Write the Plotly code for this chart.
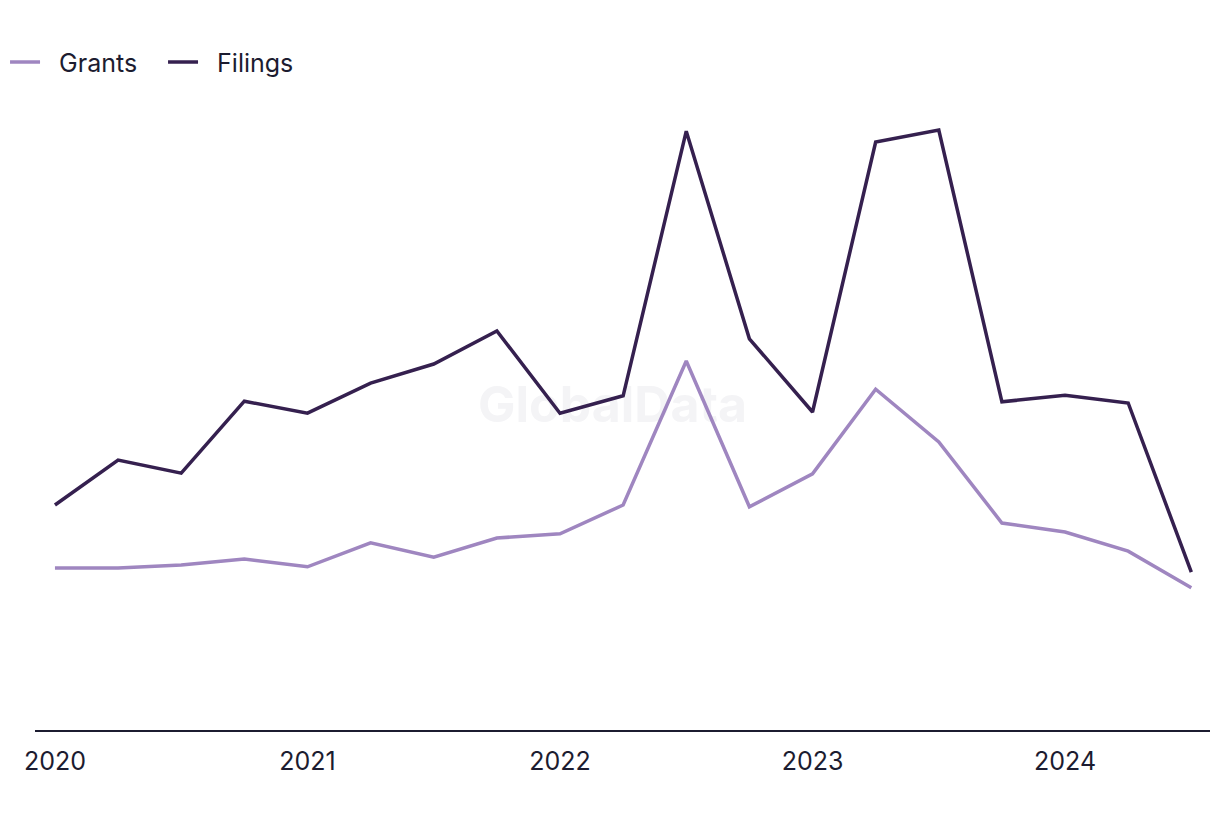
import plotly.graph_objects as go

quarters = [2020 + i * 0.25 for i in range(19)]
quarter_labels = ["Q1 2020", "Q2 2020", "Q3 2020", "Q4 2020",
                  "Q1 2021", "Q2 2021", "Q3 2021", "Q4 2021",
                  "Q1 2022", "Q2 2022", "Q3 2022", "Q4 2022",
                  "Q1 2023", "Q2 2023", "Q3 2023", "Q4 2023",
                  "Q1 2024", "Q2 2024", "Q3 2024"]
grants = [27.0, 27.0, 27.5, 28.5, 27.2, 31.2, 28.8, 32.0, 32.7, 37.5,
          61.5, 37.2, 42.7, 56.8, 48.0, 34.5, 33.0, 29.8, 23.7]
filings = [37.5, 45.0, 42.8, 54.8, 52.8, 57.8, 61.0, 66.5, 52.8, 55.7,
           99.8, 65.2, 53.0, 98.0, 100.0, 54.7, 55.8, 54.5, 26.3]
tick_vals = [2020, 2021, 2022, 2023, 2024]
tick_text = ["2020", "2021", "2022", "2023", "2024"]

x_range = [2019.921, 2024.574]
y_range = [0, 105]
FONT = "Inter, Liberation Sans, sans-serif"
PAD = "\u00a0\u00a0"  # extra gap between legend line and label

fig = go.Figure()
# watermark drawn first so that it sits behind the lines
fig.add_trace(go.Scatter(
    x=[x_range[0] + 0.4915 * (x_range[1] - x_range[0])],
    y=[y_range[0] + 0.508 * (y_range[1] - y_range[0])],
    mode="text", text=["<b>GlobalData</b>"], showlegend=False, hoverinfo="skip",
    textfont=dict(family=FONT, size=50, color="#f4f4f6")))
fig.add_trace(go.Scatter(x=quarters, y=grants, mode="lines", name=PAD + "Grants",
                         text=quarter_labels,
                         line=dict(color="#9f86c0", width=3.5)))
fig.add_trace(go.Scatter(x=quarters, y=filings, mode="lines", name=PAD + "Filings",
                         text=quarter_labels,
                         line=dict(color="#35204f", width=3.5)))

fig.update_layout(
    width=1220, height=820,
    margin=dict(l=27, r=18, t=92, b=98, autoexpand=False),
    paper_bgcolor="white", plot_bgcolor="white",
    font=dict(family=FONT, size=25, color="#1c1c30"),
    showlegend=True,
    legend=dict(orientation="h", x=-0.0255, y=1.06, xanchor="left", yanchor="middle",
                font=dict(size=25, color="#1c1c30"), entrywidth=113, itemwidth=30,
                bgcolor="rgba(0,0,0,0)", traceorder="normal"),
    xaxis=dict(range=x_range, tickvals=tick_vals, ticktext=tick_text,
               showgrid=False, zeroline=False, showline=True, linecolor="#1c1c30",
               linewidth=2, ticks="outside", ticklen=8, tickcolor="rgba(0,0,0,0)",
               tickfont=dict(size=25, color="#1c1c30")),
    yaxis=dict(range=y_range, showgrid=False, zeroline=False, showline=False,
               showticklabels=False, ticks=""),
)

fig.write_html("out.html")
